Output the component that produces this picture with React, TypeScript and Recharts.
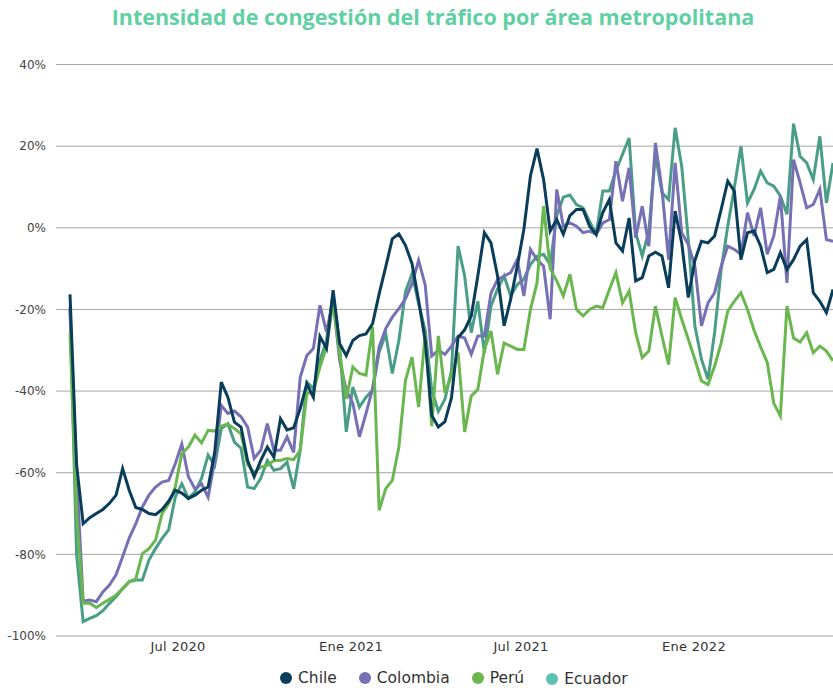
import React from 'react';
import { LineChart, Line, XAxis, YAxis, CartesianGrid, Legend } from 'recharts';

const chile = [
  -16.3, -58, -72.5, -71, -70, -69, -67.5, -65.5, -59, -64.3,
  -68.5, -69, -70, -70.3, -69, -67, -64.3, -65, -66.3, -65.5,
  -64.3, -63.5, -55, -37.8, -41.5, -47.6, -48.8, -57, -61, -57,
  -53.7, -56.2, -46.8, -49.5, -49, -44.3, -38.2, -41.5, -26.6, -29.6,
  -15.3, -28.4, -31.3, -27.6, -26.4, -26, -23.5, -16.2, -9.6, -2.7,
  -1.5, -4.3, -8.8, -17.8, -27.6, -46, -48.8, -47.5, -41.6, -26.9,
  -25, -21.6, -11.8, -1.2, -3.7, -11.8, -24, -17.5, -9.4, -0.4,
  12.7, 19.4, 11.8, -0.8, 2, -1.6, 3, 4.5, 4.5, 0.4,
  -1.6, 3.7, 6.9, -3.7, -5.7, 2.4, -13, -12.2, -6.9, -6,
  -6.9, -14.7, 4.1, -3.7, -17.1, -8, -3.3, -3.7, -2, 4.5,
  11.4, 9, -7.8, -1.2, -0.8, -4.5, -11, -10.2, -6.1, -10.2,
  -7.8, -4.5, -2.9, -15.9, -18, -20.8, -15.1,
];

const colombia = [
  -20, -60, -91.5, -91.2, -91.6, -89.2, -87.5, -85, -80.6, -76,
  -72.5, -68.4, -65.5, -63.5, -62.3, -61.9, -57.8, -53, -61, -64,
  -62.7, -66, -57, -43.5, -45.5, -44.9, -46.3, -48.8, -56.5, -54.5,
  -48, -54.5, -54.5, -51.2, -55, -36.6, -31.3, -29.6, -19, -25.5,
  -17.8, -32.5, -39.8, -43, -51.2, -45.5, -39.4, -29.2, -24.7, -21.9,
  -19.8, -17.4, -13.7, -8, -14, -31.4, -30, -31, -29, -26.5,
  -27, -31, -26.5, -26.5, -16, -12.7, -11.8, -11, -7.8, -16.7,
  -5.3, -7.8, -9.4, -22.4, 9.4, 0.4, 1.2, 0.4, -1.2, -0.8,
  -1.6, 1.2, 2, 16.3, 6.5, 14.7, -2.4, 5.3, -4.5, 20.8,
  9.4, -7.8, 15.9, -1.2, -4.1, -9.4, -24, -18.4, -15.9, -9.4,
  -4.5, -5.3, -6.5, 3.7, -2, 4.9, -6.5, -2, 7.8, -13.5,
  16.7, 11, 4.9, 5.7, 9.4, -2.9, -3.3,
];

const peru = [
  -26, -70, -92, -92, -93, -92, -91, -90, -88.4, -86.7,
  -86, -79.8, -78.6, -76.5, -70, -67.6, -63.5, -55.3, -53.7, -50.8,
  -52.7, -49.6, -49.8, -48.6, -48.1, -49.2, -50.5, -58, -60, -58.6,
  -58.2, -57, -57, -56.5, -56.8, -54.5, -40.6, -40.2, -34.1, -29.2,
  -18.2, -30.8, -41.9, -34.1, -35.7, -36.1, -24.3, -69.2, -63.9, -61.9,
  -53.7, -37.4, -31.7, -43.9, -26, -48.6, -26.5, -40.4, -36.3, -30.6,
  -50, -41.2, -39.6, -29.8, -25.3, -35.9, -28.2, -29, -29.8, -29.8,
  -20, -13.5, 5.3, -10, -13, -16.7, -11.4, -20, -21.6, -20,
  -19.2, -19.6, -15.1, -11, -18.4, -15.5, -25.7, -31.8, -30.2, -19.2,
  -26.5, -33.5, -17.1, -22.4, -27.3, -32.2, -37.5, -38.4, -33.9, -28.2,
  -20.4, -18, -15.9, -20, -25.1, -29.2, -33, -43, -46.1, -19.2,
  -27, -28, -25.7, -30.6, -29, -30.2, -32.6,
];

const ecuador = [
  -19.4, -80, -96.5, -95.7, -95, -93.8, -92, -90.4, -88.4, -86.7,
  -86.3, -86.3, -81.4, -78.6, -76.1, -74, -66, -62.7, -66.3, -64.7,
  -61.4, -55.7, -58.2, -49.2, -48, -52.5, -54, -63.5, -63.9, -61.4,
  -57, -59.4, -59, -57.4, -63.9, -54.5, -37.8, -39.4, -32.5, -27.6,
  -16.2, -29.2, -50, -39, -43.9, -41.5, -39.8, -30.4, -26, -35.7,
  -27.6, -15.7, -11.3, -18.6, -25.1, -39.8, -45, -42, -35, -4.5,
  -11.8, -25.7, -18, -30.6, -19.2, -15, -11.8, -16.7, -13.9, -12.6,
  -9, -7, -6.5, -9, 3, 7.5, 8, 5.7, 4.9, 1.5,
  -1.6, 9, 9, 14, 18, 22, -1.2, -6.9, -0.8, 18,
  8.6, 6.9, 24.5, 15.1, -2.9, -24, -32.2, -37.1, -25.7, -10.2,
  0.4, 9.8, 20, 6.1, 9.4, 13.9, 11, 10.2, 7.8, 3.3,
  25.5, 17.5, 15.9, 11.8, 22.4, 6.1, 15.9,
];

const firstWeek = Date.UTC(2020, 2, 8);
const WEEK_MS = 7 * 24 * 3600 * 1000;
const weeks = chile.map((_, i) => firstWeek + i * WEEK_MS);

const tickDates = [Date.UTC(2020, 6, 1), Date.UTC(2021, 0, 1), Date.UTC(2021, 6, 1), Date.UTC(2022, 0, 1)];
const tickLabels = ['Jul 2020', 'Ene 2021', 'Jul 2021', 'Ene 2022'];
const yTicks = [-100, -80, -60, -40, -20, 0, 20, 40];

const seriesNames = ['Chile', 'Colombia', 'Perú', 'Ecuador'];
const lineColors = ['#0a3d5a', '#7670b5', '#6ab64f', '#4a9d86'];
const legendColors = ['#0a3d5a', '#7670b5', '#6ab64f', '#5fc1b6'];
const seriesValues = [chile, colombia, peru, ecuador];

const data = weeks.map((t, i) => {
  const row: Record<string, number> = { t };
  seriesNames.forEach((n, k) => {
    row[n] = seriesValues[k][i];
  });
  return row;
});

const drawOrder = [3, 1, 2, 0];

const renderLegend = () => (
  <div style={{ display: 'flex', alignItems: 'center', fontFamily: 'DejaVu Sans', fontSize: 15.5, color: '#333' }}>
    {seriesNames.map((n, k) => (
      <div key={n} style={{ display: 'flex', alignItems: 'center', marginRight: 22, marginTop: k === 3 ? 3 : 0 }}>
        <span style={{ display: 'inline-block', width: 12, height: 12, borderRadius: '50%', background: legendColors[k], marginRight: 6 }} />
        <span>{n}</span>
      </div>
    ))}
  </div>
);

export default function App() {
  return (
    <div style={{ position: 'absolute', left: 0, top: 0, width: 833, height: 688, background: '#fff' }}>
      <div
        style={{
          position: 'absolute',
          left: 0,
          top: 2,
          width: 866,
          textAlign: 'center',
          fontFamily: '"Open Sans"',
          fontWeight: 700,
          fontSize: 21.5,
          color: '#5fd0a3',
          whiteSpace: 'nowrap',
        }}
      >
        Intensidad de congestión del tráfico por área metropolitana
      </div>
      <LineChart width={833} height={688} data={data} margin={{ top: 64.5, right: 0, bottom: 22, left: 0 }}>
        <CartesianGrid vertical={false} stroke="#a6a6a6" strokeWidth={1} />
        <XAxis
          dataKey="t"
          type="number"
          domain={['dataMin', 'dataMax']}
          padding={{ left: 14, right: 0 }}
          ticks={tickDates}
          tickFormatter={(v: number) => tickLabels[tickDates.indexOf(v)] ?? ''}
          axisLine={false}
          tickLine={false}
          tickSize={0}
          tickMargin={6}
          height={30}
          tick={{ fill: '#333', fontSize: 13, fontFamily: 'DejaVu Sans', letterSpacing: 0.3 }}
          interval={0}
        />
        <YAxis
          type="number"
          domain={[-100, 40]}
          ticks={yTicks}
          tickFormatter={(v: number) => `${v}%`}
          axisLine={false}
          tickLine={false}
          tickSize={0}
          tickMargin={10}
          width={56}
          tick={{ fill: '#444', fontSize: 12, fontFamily: 'DejaVu Sans' }}
          interval={0}
        />
        {drawOrder.map((k) => (
          <Line
            key={seriesNames[k]}
            type="linear"
            dataKey={seriesNames[k]}
            stroke={lineColors[k]}
            strokeWidth={3}
            dot={false}
            isAnimationActive={false}
          />
        ))}
        <Legend
          layout="horizontal"
          verticalAlign="middle"
          align="center"
          content={renderLegend}
          wrapperStyle={{ top: 667, left: 280, width: 400, height: 22 }}
        />
      </LineChart>
    </div>
  );
}
